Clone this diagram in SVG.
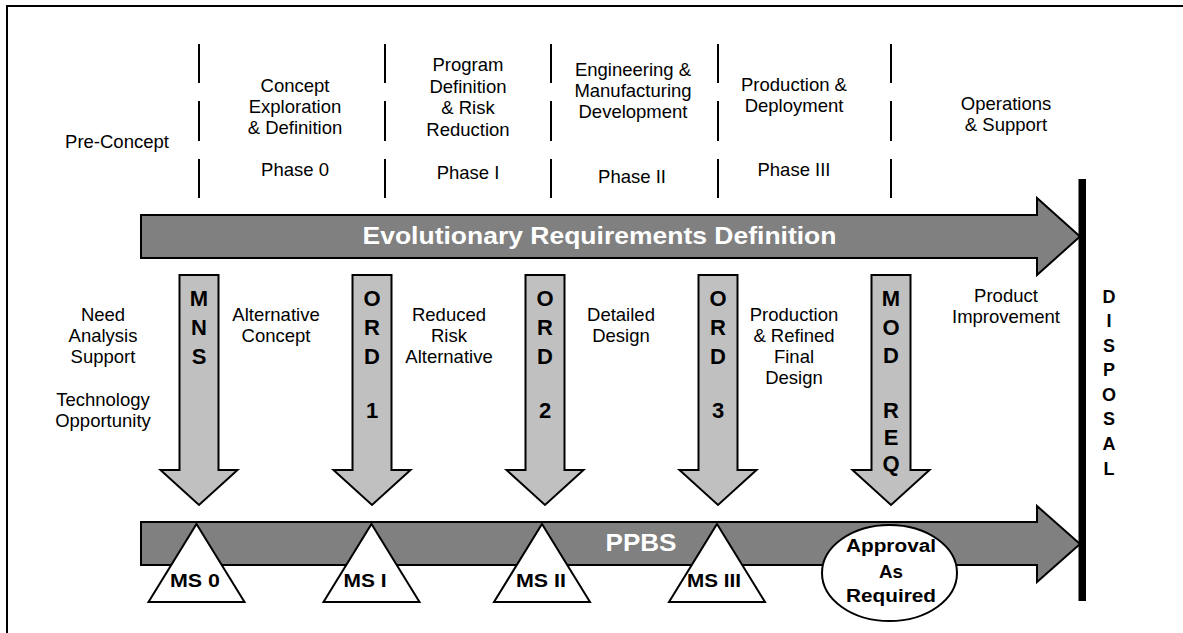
<svg xmlns="http://www.w3.org/2000/svg" width="1183" height="633" viewBox="0 0 1183 633">
<defs>
<style>
.t{font-family:"Liberation Sans",Arial,sans-serif;font-size:18.5px;fill:#000;text-anchor:middle}
.b{font-family:"Liberation Sans",Arial,sans-serif;font-weight:bold;fill:#000;text-anchor:middle}
.v{font-size:22px}
.ms{font-size:18px}
.w{font-family:"Liberation Sans",Arial,sans-serif;font-weight:bold;fill:#fff;font-size:24.5px;text-anchor:middle}
.big{fill:#808080;stroke:#000;stroke-width:2;stroke-linejoin:miter}
.down{fill:#c0c0c0;stroke:#000;stroke-width:2}
.ms-shape{fill:#fff;stroke:#000;stroke-width:2}
.sep{stroke:#000;stroke-width:2}
</style>
<path id="dn" d="M-19.5,275 H19.5 V470 H38.5 L0,505 L-38.5,470 H-19.5 Z"/>
<path id="tri" d="M0,524 L48,602 H-48 Z"/>
</defs>
<rect x="0" y="0" width="1183" height="633" fill="#fff"/>
<rect x="7" y="6" width="1200" height="700" fill="none" stroke="#000" stroke-width="2"/>

<g id="separators" class="sep">
<path d="M199,44V83M199,101V141M199,159V198"/>
<path d="M385,44V83M385,101V141M385,159V198"/>
<path d="M551,44V83M551,101V141M551,159V198"/>
<path d="M718,44V83M718,101V141M718,159V198"/>
<path d="M891,44V83M891,101V141M891,159V198"/>
</g>

<g id="phase-labels">
<text class="t" x="117" y="148">Pre-Concept</text>
<text class="t" x="295" y="92">Concept</text>
<text class="t" x="295" y="113">Exploration</text>
<text class="t" x="295" y="134">&amp; Definition</text>
<text class="t" x="295" y="176">Phase 0</text>
<text class="t" x="468" y="71">Program</text>
<text class="t" x="468" y="93">Definition</text>
<text class="t" x="468" y="114">&amp; Risk</text>
<text class="t" x="468" y="136">Reduction</text>
<text class="t" x="468" y="179">Phase I</text>
<text class="t" x="633" y="76">Engineering &amp;</text>
<text class="t" x="633" y="97">Manufacturing</text>
<text class="t" x="633" y="118">Development</text>
<text class="t" x="632" y="183">Phase II</text>
<text class="t" x="794" y="91">Production &amp;</text>
<text class="t" x="794" y="112">Deployment</text>
<text class="t" x="794" y="176">Phase III</text>
<text class="t" x="1006" y="110">Operations</text>
<text class="t" x="1006" y="131">&amp; Support</text>
</g>

<g id="evolutionary-arrow">
<polygon class="big" points="141,215 1037,215 1037,198 1080,236.5 1037,275 1037,258 141,258"/>
<text class="w" x="599.5" y="244" textLength="474" lengthAdjust="spacingAndGlyphs">Evolutionary Requirements Definition</text>
</g>

<g id="ppbs-arrow">
<polygon class="big" points="141,522 1037,522 1037,506 1080,544 1037,582 1037,565 141,565"/>
<text class="w" x="641" y="551" textLength="71" lengthAdjust="spacingAndGlyphs">PPBS</text>
</g>

<g id="disposal">
<rect x="1078.5" y="179" width="7.5" height="422" fill="#000"/>
<text class="b ms" x="1109" y="303">D</text>
<text class="b ms" x="1109" y="327">I</text>
<text class="b ms" x="1109" y="352">S</text>
<text class="b ms" x="1109" y="376">P</text>
<text class="b ms" x="1109" y="401">O</text>
<text class="b ms" x="1109" y="425">S</text>
<text class="b ms" x="1109" y="450">A</text>
<text class="b ms" x="1109" y="475">L</text>
</g>

<g id="mns">
<use href="#dn" x="199" class="down"/>
<text class="b v" x="199" y="306">M</text>
<text class="b v" x="199" y="335">N</text>
<text class="b v" x="199" y="364">S</text>
</g>
<g id="ord1">
<use href="#dn" x="372" class="down"/>
<text class="b v" x="372" y="306">O</text>
<text class="b v" x="372" y="335">R</text>
<text class="b v" x="372" y="364">D</text>
<text class="b v" x="372" y="418">1</text>
</g>
<g id="ord2">
<use href="#dn" x="545" class="down"/>
<text class="b v" x="545" y="306">O</text>
<text class="b v" x="545" y="335">R</text>
<text class="b v" x="545" y="364">D</text>
<text class="b v" x="545" y="418">2</text>
</g>
<g id="ord3">
<use href="#dn" x="718" class="down"/>
<text class="b v" x="718" y="306">O</text>
<text class="b v" x="718" y="335">R</text>
<text class="b v" x="718" y="364">D</text>
<text class="b v" x="718" y="418">3</text>
</g>
<g id="modreq">
<use href="#dn" x="891" class="down"/>
<text class="b v" x="891" y="306">M</text>
<text class="b v" x="891" y="335">O</text>
<text class="b v" x="891" y="363">D</text>
<text class="b v" x="891" y="418">R</text>
<text class="b v" x="891" y="445">E</text>
<text class="b v" x="891" y="471">Q</text>
</g>

<g id="activity-labels">
<text class="t" x="103" y="321">Need</text>
<text class="t" x="103" y="342">Analysis</text>
<text class="t" x="103" y="363">Support</text>
<text class="t" x="103" y="406">Technology</text>
<text class="t" x="103" y="427">Opportunity</text>
<text class="t" x="276" y="321">Alternative</text>
<text class="t" x="276" y="342">Concept</text>
<text class="t" x="449" y="321">Reduced</text>
<text class="t" x="449" y="342">Risk</text>
<text class="t" x="449" y="363">Alternative</text>
<text class="t" x="621" y="321">Detailed</text>
<text class="t" x="621" y="342">Design</text>
<text class="t" x="794" y="321">Production</text>
<text class="t" x="794" y="342">&amp; Refined</text>
<text class="t" x="794" y="363">Final</text>
<text class="t" x="794" y="384">Design</text>
<text class="t" x="1006" y="302">Product</text>
<text class="t" x="1006" y="323">Improvement</text>
</g>

<g id="ms0"><use href="#tri" x="196.5" class="ms-shape"/><text class="b ms" x="195" y="587" textLength="50" lengthAdjust="spacingAndGlyphs">MS 0</text></g>
<g id="ms1"><use href="#tri" x="371.5" class="ms-shape"/><text class="b ms" x="365" y="587" textLength="43" lengthAdjust="spacingAndGlyphs">MS I</text></g>
<g id="ms2"><use href="#tri" x="542" class="ms-shape"/><text class="b ms" x="541" y="587" textLength="50" lengthAdjust="spacingAndGlyphs">MS II</text></g>
<g id="ms3"><use href="#tri" x="717" class="ms-shape"/><text class="b ms" x="714" y="587" textLength="54" lengthAdjust="spacingAndGlyphs">MS III</text></g>
<g id="approval">
<ellipse cx="889.5" cy="573" rx="67.5" ry="48" class="ms-shape"/>
<text class="b ms" x="891" y="552" textLength="90" lengthAdjust="spacingAndGlyphs">Approval</text>
<text class="b ms" x="891" y="578" textLength="24" lengthAdjust="spacingAndGlyphs">As</text>
<text class="b ms" x="891" y="602" textLength="90" lengthAdjust="spacingAndGlyphs">Required</text>
</g>
</svg>
